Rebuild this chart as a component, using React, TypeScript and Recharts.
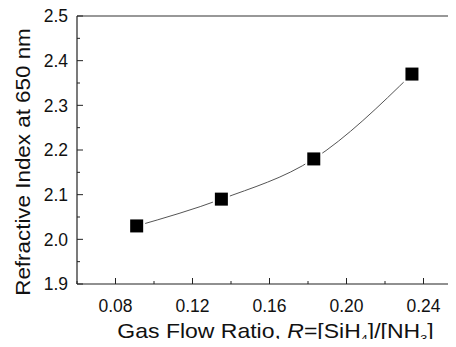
import React from "react";
import {
  ComposedChart,
  Line,
  Scatter,
  XAxis,
  YAxis,
  ReferenceLine,
} from "recharts";

const flowRatio = [0.091, 0.135, 0.183, 0.234];
const refractiveIndex = [2.03, 2.09, 2.18, 2.37];

const xTicks = [0.06, 0.08, 0.1, 0.12, 0.14, 0.16, 0.18, 0.2, 0.22, 0.24, 0.26];
const xMajor = ["0.08", "0.12", "0.16", "0.20", "0.24"];
const yTicks = [1.9, 1.95, 2.0, 2.05, 2.1, 2.15, 2.2, 2.25, 2.3, 2.35, 2.4, 2.45, 2.5];
const yMajor = ["1.9", "2.0", "2.1", "2.2", "2.3", "2.4", "2.5"];

const data = flowRatio.map((x, i) => ({ x, y: refractiveIndex[i] }));

const FONT = "'Liberation Sans', Arial, sans-serif";
const X_MARGIN = 16;
const Y_MARGIN = 9;

const XTick = (props: any) => {
  const { x, y, payload } = props;
  const label = Number(payload.value).toFixed(2);
  const major = xMajor.includes(label);
  const axisY = y - X_MARGIN;
  return (
    <g>
      <line x1={x} x2={x} y1={axisY} y2={axisY - (major ? 6 : 3)} stroke="#222" strokeWidth={1} />
      {major && (
        <text x={x} y={y} dy="0.71em" textAnchor="middle" fontSize={17.5} fill="#111" fontFamily={FONT}>
          {label}
        </text>
      )}
    </g>
  );
};

const YTick = (props: any) => {
  const { x, y, payload } = props;
  const label = Number(payload.value).toFixed(1);
  const major = yMajor.includes(label) && Math.abs(Number(label) - payload.value) < 1e-6;
  const axisX = x + Y_MARGIN;
  return (
    <g>
      <line x1={axisX} x2={axisX + (major ? 6 : 3)} y1={y} y2={y} stroke="#222" strokeWidth={1} />
      {major && (
        <text x={x} y={y} dy="0.355em" textAnchor="end" fontSize={17.5} fill="#111" fontFamily={FONT}>
          {label}
        </text>
      )}
    </g>
  );
};

// the scanned titles are a bit wider than Liberation Sans, so stretch them sideways
const XTitle = (props: any) => {
  const { viewBox } = props;
  const cx = viewBox.x + viewBox.width / 2 + 6;
  const y = viewBox.y + 54;
  return (
    <g transform={`translate(${cx}, ${y}) scale(1.15, 1)`}>
      <text x={0} y={0} textAnchor="middle" fontSize={20} fill="#111" fontFamily={FONT}>
        <tspan>Gas Flow Ratio, </tspan>
        <tspan fontStyle="italic">R</tspan>
        <tspan>=[SiH</tspan>
        <tspan fontSize={11} dy={5}>4</tspan>
        <tspan dy={-5}>]/[NH</tspan>
        <tspan fontSize={11} dy={5}>3</tspan>
        <tspan dy={-5}>]</tspan>
      </text>
    </g>
  );
};

const YTitle = (props: any) => {
  const { viewBox } = props;
  const x = viewBox.x + viewBox.width / 2 - 16;
  const y = viewBox.y + viewBox.height / 2 + 12;
  return (
    <g transform={`translate(${x}, ${y}) rotate(-90) scale(1.12, 1)`}>
      <text
        x={0}
        y={0}
        textAnchor="middle"
        dominantBaseline="central"
        fontSize={20}
        fill="#111"
        fontFamily={FONT}
      >
        Refractive Index at 650 nm
      </text>
    </g>
  );
};

const Square = (props: any) => {
  const { cx, cy } = props;
  const s = 13;
  return (
    <rect x={cx - s / 2} y={cy - s / 2} width={s} height={s} fill="#000" stroke="#fff" strokeWidth={4} paintOrder="stroke" />
  );
};

export default function App() {
  return (
    <div style={{ margin: -8, width: 456, height: 347, overflow: "hidden", background: "#fff" }}>
      <ComposedChart
        width={470}
        height={347}
        data={data}
        margin={{ top: 16, right: 8, bottom: 0, left: 0 }}
      >
        <XAxis
          dataKey="x"
          type="number"
          domain={[0.06, 0.26]}
          ticks={xTicks}
          interval={0}
          tick={<XTick />}
          tickLine={false}
          tickSize={0}
          tickMargin={X_MARGIN}
          height={63}
          axisLine={{ stroke: "#222", strokeWidth: 1.2 }}
          label={{ content: <XTitle /> }}
        />
        <YAxis
          type="number"
          domain={[1.9, 2.5]}
          ticks={yTicks}
          interval={0}
          tick={<YTick />}
          tickLine={false}
          tickSize={0}
          tickMargin={Y_MARGIN}
          width={77}
          axisLine={{ stroke: "#222", strokeWidth: 1.2 }}
          label={{ content: <YTitle /> }}
        />
        <ReferenceLine y={2.5} stroke="#333" strokeWidth={1.2} />
        <ReferenceLine x={0.26} stroke="#333" strokeWidth={1.2} />
        <Line
          type="monotone"
          dataKey="y"
          stroke="#555"
          strokeWidth={1}
          dot={false}
          activeDot={false}
          isAnimationActive={false}
        />
        <Scatter dataKey="y" shape={<Square />} isAnimationActive={false} />
      </ComposedChart>
    </div>
  );
}
